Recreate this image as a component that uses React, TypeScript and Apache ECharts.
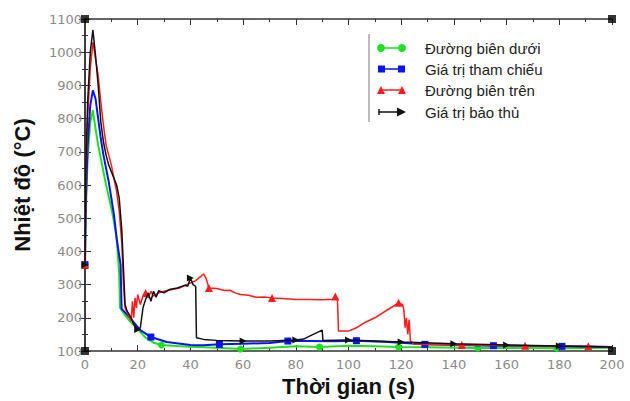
import React, { useEffect, useRef } from "react";
import * as echarts from "echarts";

// Time (s) / temperature (°C) readings for each curve
const lowerBound: [number, number][] = [
  [0, 360], [0.3, 520], [1, 680], [2, 790], [3, 825], [4, 770], [5, 720], [6, 680], [7, 640], [8, 600],
  [9, 565], [10, 530], [11, 490], [12, 440], [13, 330], [13.3, 230], [15, 210], [17, 190], [20, 166],
  [23, 140], [26, 125], [29, 118], [35, 115], [40, 113], [50, 110], [59, 106], [70, 110], [80, 114],
  [89, 112], [100, 116], [110, 114], [119, 112], [130, 111], [149, 109], [165, 109], [179, 108], [200, 110],
];
const reference: [number, number][] = [
  [0, 360], [0.3, 550], [1, 720], [2, 840], [3, 885], [4, 860], [5, 800], [6, 740], [7, 690], [8, 650],
  [9, 610], [10, 560], [11, 510], [12, 440], [13.5, 360], [13.9, 227], [15, 218], [17.4, 197], [21, 163],
  [25, 142], [31, 127], [40, 118], [45, 117], [51, 120], [60, 122], [70, 124], [77, 130], [85, 130],
  [95, 129], [103, 131], [115, 127], [129, 120], [140, 118], [155, 116], [170, 115], [181, 114], [200, 112],
];
const upperBound: [number, number][] = [
  [0, 360], [0.3, 620], [1, 800], [2, 950], [3, 1030], [4, 980], [5, 930], [6, 850], [7, 780], [8, 720],
  [9, 690], [10, 660], [11, 620], [12, 580], [13, 520], [14, 420], [14.6, 300], [15.2, 230], [16, 215],
  [17, 200], [17.5, 190], [18, 250], [18.5, 200], [19, 260], [19.5, 230], [20, 270], [21, 240], [22, 265],
  [23, 275], [24, 260], [25, 280], [26, 265], [28, 275], [30, 280], [33, 285], [36, 290], [40, 305],
  [42, 312], [44, 325], [45, 332], [46, 318], [47, 290], [50, 288], [53, 282], [55, 283], [57, 275],
  [59, 270], [62, 268], [65, 262], [68, 263], [71, 260], [75, 258], [80, 255], [85, 255], [90, 254],
  [94, 256], [95, 264], [95.8, 258], [96.2, 160], [100, 160], [103, 170], [106, 185], [110, 200],
  [115, 225], [119, 245], [120.5, 240], [121, 225], [121.5, 170], [122, 200], [122.5, 150], [123, 195],
  [123.5, 130], [125, 120], [143, 118], [167, 116], [191, 114], [200, 113],
];
const conservative: [number, number][] = [
  [0, 360], [0.3, 650], [1, 850], [2, 1000], [3, 1067], [4, 990], [5, 900], [6, 790], [7, 730], [8, 690],
  [9, 660], [10, 640], [11, 620], [12, 600], [13, 560], [14, 460], [14.7, 330], [15.2, 240], [16, 220],
  [17.5, 200], [18.5, 180], [20, 165], [21, 170], [22, 230], [23, 255], [24, 275], [25, 250], [26, 280],
  [27, 262], [28, 282], [30, 275], [32, 285], [35, 290], [38, 298], [39, 295], [40, 320], [41, 300],
  [42, 295], [42.3, 140], [45, 135], [50, 132], [60, 130], [70, 130], [80, 133], [83, 136], [86, 148],
  [90, 163], [90.3, 132], [100, 133], [110, 130], [120, 127], [140, 122], [160, 118], [180, 115], [200, 112],
];

// Times at which the curves carry a marker
const lowerMarks = [0, 29, 59, 89, 119, 149, 179];
const referenceMarks = [0, 25, 51, 77, 103, 129, 155, 181];
const upperMarks = [0, 23, 47, 71, 95, 119, 143, 167, 191];
const conservativeMarks = [0, 20, 40, 60, 80, 100, 120, 140, 160, 180];

const frameCorners: [number, number][] = [[0, 100], [0, 1100], [200, 1100], [200, 100]];

const seriesNames = ["Đường biên dưới", "Giá trị tham chiếu", "Đường biên trên", "Giá trị bảo thủ"];
const seriesColors = ["#1fe01f", "#0a14f0", "#ff1c1c", "#111111"];

const xMin = 0, xMax = 200, xStep = 20;
const yMin = 100, yMax = 1100, yStep = 100;

function withMarks(data: [number, number][], marks: number[]) {
  return data.map((p) =>
    marks.includes(p[0]) ? { value: p } : { value: p, symbol: "none" }
  );
}

export default function App() {
  const ref = useRef<HTMLDivElement>(null);
  useEffect(() => {
    if (!ref.current) return;
    const chart = echarts.init(ref.current, null, { renderer: "svg" });
    const labelStyle = { color: "#8a8a8a", fontSize: 13, fontFamily: "'DejaVu Sans', sans-serif" };
    const axisLine = { show: true, lineStyle: { color: "#333", width: 1.5 } };
    const tick = { show: true, inside: true, length: 6, lineStyle: { color: "#333", width: 1 } };
    const minor = { show: true, splitNumber: 2, length: 3, lineStyle: { color: "#333", width: 1 } };
    const titleFont = {
      fontFamily: "'Liberation Sans', Arial, sans-serif",
      fontWeight: "bold" as const,
      fontSize: 22,
      color: "#111",
    };
    const lineSeries = (i: number, data: [number, number][], marks: number[], symbol: string, size: number, width: number, rotate = 0) => ({
      type: "line",
      name: seriesNames[i],
      data: withMarks(data, marks),
      xAxisIndex: 0,
      yAxisIndex: 0,
      symbol,
      symbolSize: size,
      symbolRotate: rotate,
      showSymbol: true,
      showAllSymbol: true,
      lineStyle: { color: seriesColors[i], width },
      itemStyle: { color: seriesColors[i] },
      z: 2 + i,
    });

    const rows = [48, 69, 90, 112];
    const lx1 = 379, lx2 = 404;
    const graphics: any[] = [
      { type: "line", shape: { x1: 369, y1: 34, x2: 369, y2: 122 }, style: { stroke: "#777", lineWidth: 1 } },
    ];
    rows.forEach((y, i) => {
      graphics.push({ type: "line", shape: { x1: lx1, y1: y, x2: lx2, y2: y }, style: { stroke: seriesColors[i], lineWidth: 1.5 } });
      if (i === 0) {
        graphics.push({ type: "circle", shape: { cx: lx1 + 2, cy: y, r: 4 }, style: { fill: seriesColors[i] } });
        graphics.push({ type: "circle", shape: { cx: lx2 - 2, cy: y, r: 4 }, style: { fill: seriesColors[i] } });
      } else if (i === 1) {
        graphics.push({ type: "rect", shape: { x: lx1 - 1, y: y - 3.5, width: 7, height: 7 }, style: { fill: seriesColors[i] } });
        graphics.push({ type: "rect", shape: { x: lx2 - 6, y: y - 3.5, width: 7, height: 7 }, style: { fill: seriesColors[i] } });
      } else if (i === 2) {
        graphics.push({ type: "polygon", shape: { points: [[lx1 - 2, y + 4], [lx1 + 2, y - 4], [lx1 + 6, y + 4]] }, style: { fill: seriesColors[i] } });
        graphics.push({ type: "polygon", shape: { points: [[lx2 - 6, y + 4], [lx2 - 2, y - 4], [lx2 + 2, y + 4]] }, style: { fill: seriesColors[i] } });
      } else {
        graphics.push({ type: "line", shape: { x1: lx1, y1: y - 3, x2: lx1, y2: y + 3 }, style: { stroke: seriesColors[i], lineWidth: 1.5 } });
        graphics.push({ type: "polygon", shape: { points: [[lx2 - 7, y - 4.5], [lx2 + 2, y], [lx2 - 7, y + 4.5]] }, style: { fill: seriesColors[i] } });
      }
      graphics.push({
        type: "text",
        x: 425,
        y,
        style: {
          text: seriesNames[i],
          fill: "#222",
          fontSize: 15,
          fontFamily: "'Liberation Sans', Arial, sans-serif",
          verticalAlign: "middle",
        },
      });
    });

    chart.setOption({
      animation: false,
      backgroundColor: "#ffffff",
      grid: { left: 85, right: 18, top: 19, bottom: 50, outerBoundsMode: "none", containLabel: false },
      xAxis: [
        {
          type: "value", min: xMin, max: xMax, interval: xStep, position: "bottom",
          axisLine, axisTick: tick, minorTick: minor, splitLine: { show: false },
          axisLabel: { ...labelStyle, margin: 7 },
          name: "Thời gian (s)", nameLocation: "middle", nameGap: 24, nameTextStyle: titleFont,
        },
        {
          type: "value", min: xMin, max: xMax, interval: xStep, position: "top",
          axisLine, axisTick: tick, minorTick: minor, splitLine: { show: false },
          axisLabel: { show: false },
        },
      ],
      yAxis: [
        {
          type: "value", min: yMin, max: yMax, interval: yStep, position: "left",
          axisLine, axisTick: tick, minorTick: minor, splitLine: { show: false },
          axisLabel: { ...labelStyle, margin: 3, formatter: (v: number) => String(v) },
          name: "Nhiệt độ (°C)", nameLocation: "middle", nameGap: 52, nameRotate: 90, nameTextStyle: titleFont,
        },
        {
          type: "value", min: yMin, max: yMax, interval: yStep, position: "right",
          axisLine, axisTick: tick, minorTick: minor, splitLine: { show: false },
          axisLabel: { show: false },
        },
      ],
      series: [
        lineSeries(0, lowerBound, lowerMarks, "circle", 7, 2),
        lineSeries(1, reference, referenceMarks, "rect", 7, 2),
        lineSeries(2, upperBound, upperMarks, "triangle", 8, 1.5),
        lineSeries(3, conservative, conservativeMarks, "triangle", 7, 1.5, -90),
        {
          type: "scatter",
          data: frameCorners,
          symbol: "rect",
          symbolSize: 8,
          itemStyle: { color: "#000" },
          z: 10,
        },
      ],
      graphic: graphics,
    });
    return () => chart.dispose();
  }, []);
  return <div ref={ref} style={{ width: 630, height: 401, position: "absolute", left: 0, top: 0 }} />;
}
